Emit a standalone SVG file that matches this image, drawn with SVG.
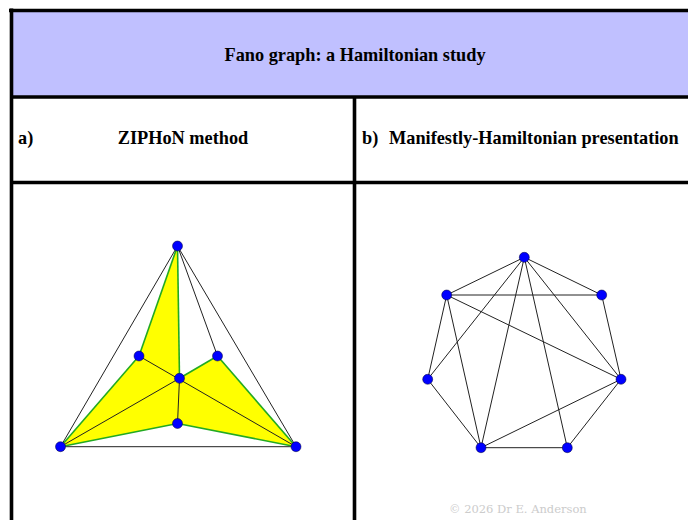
<svg xmlns="http://www.w3.org/2000/svg" width="688" height="520" viewBox="0 0 688 520">
<style>
.grid{stroke:#000;stroke-width:3.6;fill:none}
.t{font-family:"Liberation Serif","Times New Roman",serif;font-weight:bold;font-size:18.3px;fill:#000}
.e{stroke:#222;stroke-width:1;fill:none}
.g{stroke:#22aa22;stroke-width:1.6;fill:none}
.n{fill:#0000ff;stroke:#000033;stroke-width:0.5}
.c{font-family:"DejaVu Serif","Liberation Serif",serif;font-size:11.5px;fill:#cccccc}
</style>
<rect x="11" y="11" width="700" height="86" fill="#c0c0ff"/>
<g id="table">
<line class="grid" x1="9" y1="10.5" x2="700" y2="10.5" stroke-width="4.5"/>
<line class="grid" x1="11.5" y1="8.5" x2="11.5" y2="520"/>
<line class="grid" x1="10" y1="97" x2="700" y2="97"/>
<line class="grid" x1="10" y1="182.5" x2="700" y2="182.5"/>
<line class="grid" x1="354.5" y1="97" x2="354.5" y2="520"/>
</g>
<text class="t" x="355" y="61" text-anchor="middle">Fano graph: a Hamiltonian study</text>
<text class="t" x="18" y="144">a)</text>
<text class="t" x="183" y="144" text-anchor="middle">ZIPHoN method</text>
<text class="t" x="362" y="144">b)</text>
<text class="t" x="389" y="144">Manifestly-Hamiltonian presentation</text>
<polygon points="177.5,246 139,356 60.5,446.7 177.5,423.5 296,446.7 217.5,356 179.5,378.3" fill="#ffff00" stroke="none"/>
<g id="connectors">
<line class="e" x1="177.5" y1="246" x2="60.5" y2="446.7"/>
<line class="e" x1="177.5" y1="246" x2="296" y2="446.7"/>
<line class="e" x1="60.5" y1="446.7" x2="296" y2="446.7" stroke="#555"/>
<line class="e" x1="177.5" y1="246" x2="217.5" y2="356"/>
<line class="e" x1="139" y1="356" x2="296" y2="446.7"/>
<line class="e" x1="60.5" y1="446.7" x2="179.5" y2="378.3"/>
<line class="e" x1="179.5" y1="378.3" x2="177.5" y2="423.5"/>
<line class="g" x1="177.5" y1="246" x2="139" y2="356"/>
<line class="g" x1="139" y1="356" x2="60.5" y2="446.7"/>
<line class="g" x1="60.5" y1="446.7" x2="177.5" y2="423.5"/>
<line class="g" x1="177.5" y1="423.5" x2="296" y2="446.7"/>
<line class="g" x1="296" y1="446.7" x2="217.5" y2="356"/>
<line class="g" x1="217.5" y1="356" x2="179.5" y2="378.3"/>
<line class="g" x1="179.5" y1="378.3" x2="177.5" y2="246"/>
<line class="e" x1="524.3" y1="257.3" x2="446.7" y2="295"/>
<line class="e" x1="524.3" y1="257.3" x2="601.7" y2="295"/>
<line class="e" x1="524.3" y1="257.3" x2="427.7" y2="379.3"/>
<line class="e" x1="524.3" y1="257.3" x2="621" y2="379.3"/>
<line class="e" x1="524.3" y1="257.3" x2="481" y2="447.7"/>
<line class="e" x1="524.3" y1="257.3" x2="567.3" y2="447.7"/>
<line class="e" x1="446.7" y1="295" x2="601.7" y2="295"/>
<line class="e" x1="446.7" y1="295" x2="427.7" y2="379.3"/>
<line class="e" x1="446.7" y1="295" x2="621" y2="379.3"/>
<line class="e" x1="446.7" y1="295" x2="481" y2="447.7"/>
<line class="e" x1="601.7" y1="295" x2="621" y2="379.3"/>
<line class="e" x1="427.7" y1="379.3" x2="481" y2="447.7"/>
<line class="e" x1="621" y1="379.3" x2="481" y2="447.7"/>
<line class="e" x1="621" y1="379.3" x2="567.3" y2="447.7"/>
<line class="e" x1="481" y1="447.7" x2="567.3" y2="447.7" stroke="#555"/>
</g>
<g id="nodeT"><circle class="n" cx="177.5" cy="246" r="5"/></g>
<g id="nodeML"><circle class="n" cx="139" cy="356" r="5"/></g>
<g id="nodeMR"><circle class="n" cx="217.5" cy="356" r="5"/></g>
<g id="nodeC"><circle class="n" cx="179.5" cy="378.3" r="5"/></g>
<g id="nodeL"><circle class="n" cx="177.5" cy="423.5" r="5"/></g>
<g id="nodeBL"><circle class="n" cx="60.5" cy="446.7" r="5"/></g>
<g id="nodeBR"><circle class="n" cx="296" cy="446.7" r="5"/></g>
<g id="nodeA"><circle class="n" cx="524.3" cy="257.3" r="5"/></g>
<g id="nodeB"><circle class="n" cx="446.7" cy="295" r="5"/></g>
<g id="nodeC2"><circle class="n" cx="601.7" cy="295" r="5"/></g>
<g id="nodeD"><circle class="n" cx="427.7" cy="379.3" r="5"/></g>
<g id="nodeE"><circle class="n" cx="621" cy="379.3" r="5"/></g>
<g id="nodeF"><circle class="n" cx="481" cy="447.7" r="5"/></g>
<g id="nodeG"><circle class="n" cx="567.3" cy="447.7" r="5"/></g>
<text class="c" x="449" y="513">© 2026 Dr E. Anderson</text>
</svg>
